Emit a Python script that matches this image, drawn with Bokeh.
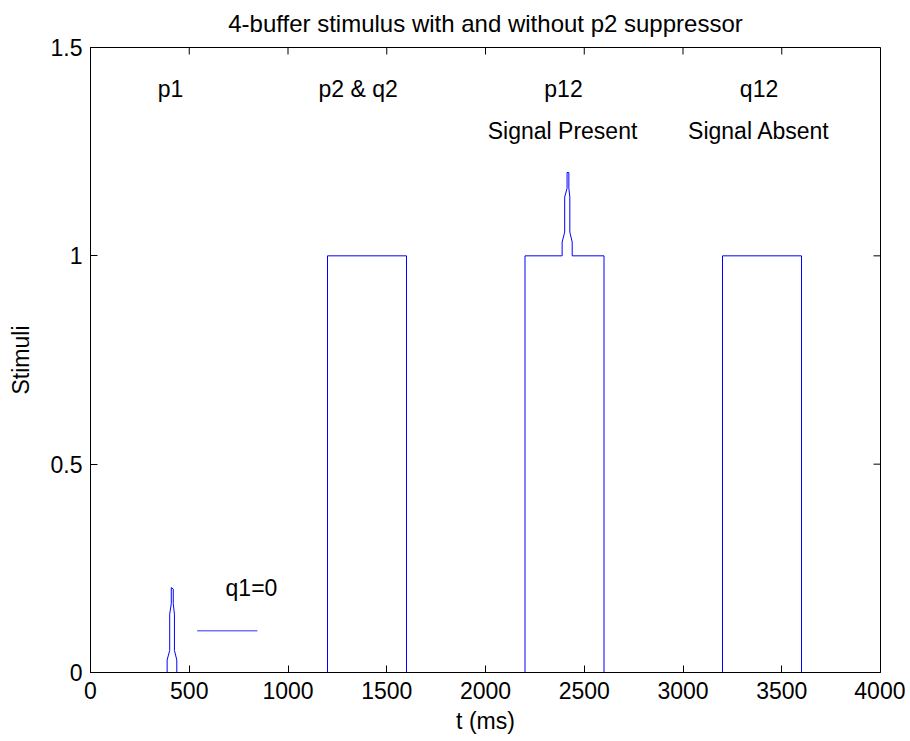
from bokeh.plotting import figure
from bokeh.models import FixedTicker, Range1d, ColumnDataSource
from bokeh.embed import file_html
from bokeh.resources import INLINE
from bokeh.core.properties import value

# ---- data ----
t_ms = [0, 388, 388, 401, 401, 409, 409, 419, 419, 425, 425, 437, 437,
        1200, 1200, 1600, 1600, 2200, 2200,
        2388, 2388, 2401, 2401, 2413, 2413, 2422, 2422, 2427, 2427, 2439, 2439,
        2600, 2600, 3200, 3200, 3600, 3600, 4000]
stimuli = [0, 0, 0.03, 0.053, 0.14, 0.165, 0.204, 0.2, 0.165, 0.14, 0.053, 0.03, 0,
           0, 1, 1, 0, 0, 1,
           1, 1.033, 1.057, 1.141, 1.162, 1.2, 1.2, 1.162, 1.141, 1.057, 1.033, 1,
           1, 0, 0, 1, 1, 0, 0]
q1_t = [540, 845]
q1_v = [0.1, 0.1]

x_ticks = [0, 500, 1000, 1500, 2000, 2500, 3000, 3500, 4000]
y_ticks = [0, 0.5, 1, 1.5]
y_tick_labels = ["0", "0.5", "1", "1.5"]

ann_text = ["p1", "p2 & q2", "p12", "Signal Present", "q12", "Signal Absent", "q1=0"]
ann_x = [405, 1355, 2395, 2390, 3385, 3385, 815]
ann_y = [1.4, 1.4, 1.4, 1.3, 1.4, 1.3, 0.204]

TITLE = "4-buffer stimulus with and without p2 suppressor"

X_MIN, X_MAX = 0, 4000
Y_MIN, Y_MAX = 0, 1.5

FONT = "Liberation Sans"
FS = "23px"
TICK = 7

p = figure(width=905, height=738, output_backend="svg", toolbar_location=None,
           x_range=Range1d(X_MIN, X_MAX), y_range=Range1d(Y_MIN, Y_MAX),
           min_border_left=90, min_border_right=25, min_border_top=47, min_border_bottom=66,
           title=TITLE)
p.title.align = "center"
p.title.vertical_align = "top"
p.title.text_font = FONT
p.title.text_font_size = "24px"
p.title.text_font_style = "normal"
p.title.text_color = "black"
p.title.standoff = 17

p.xgrid.visible = False
p.ygrid.visible = False
p.outline_line_color = "black"
p.outline_line_width = 1
p.background_fill_color = "white"
p.border_fill_color = "white"

# ticks on the top and right edges (inward)
p.ray(x=x_ticks, y=[Y_MAX] * len(x_ticks), length=TICK, length_units="screen",
      angle=-90, angle_units="deg", line_color="black", line_width=1)
p.ray(x=[X_MAX] * len(y_ticks), y=y_ticks, length=TICK, length_units="screen",
      angle=180, angle_units="deg", line_color="black", line_width=1)

p.line(t_ms, stimuli, line_color="#0000ff", line_width=1)
p.line(q1_t, q1_v, line_color="#0000ff", line_width=1.5, line_alpha=0.55)

src = ColumnDataSource(dict(x=ann_x, y=ann_y, text=ann_text))
p.text(x="x", y="y", text="text", source=src, text_align="center", text_baseline="middle",
       text_font=value(FONT), text_font_size=FS, text_color="black")

def style_axis(ax):
    ax.major_tick_in = TICK
    ax.major_tick_out = 0
    ax.minor_tick_in = 0
    ax.minor_tick_out = 0
    ax.axis_line_color = "black"
    ax.major_tick_line_color = "black"
    ax.major_label_text_font = FONT
    ax.major_label_text_font_size = FS
    ax.major_label_text_color = "black"
    ax.axis_label_text_font = FONT
    ax.axis_label_text_font_size = FS
    ax.axis_label_text_font_style = "normal"
    ax.axis_label_text_color = "black"

xb = p.xaxis[0]
xb.ticker = FixedTicker(ticks=x_ticks)
xb.axis_label = "t (ms)"
style_axis(xb)
xb.major_label_standoff = 9
xb.axis_label_standoff = 6

yl = p.yaxis[0]
yl.ticker = FixedTicker(ticks=y_ticks)
yl.major_label_overrides = {v: s for v, s in zip(y_ticks, y_tick_labels)}
yl.axis_label = "Stimuli"
style_axis(yl)
yl.major_label_standoff = 8
yl.axis_label_standoff = 14

open("out.html", "w").write(file_html(p, INLINE))
